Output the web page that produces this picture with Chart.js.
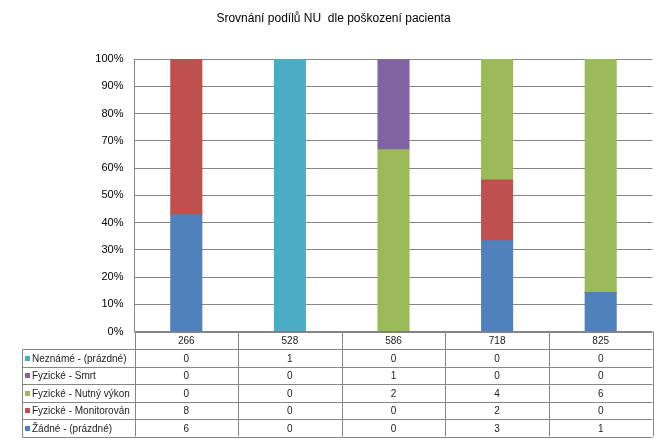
<!DOCTYPE html>
<html>
<head>
<meta charset="utf-8">
<script src="https://cdn.jsdelivr.net/npm/chart.js@4"></script>
<style>
  html, body { margin: 0; padding: 0; background: #fff; }
  #wrap { width: 667px; height: 442px; }
</style>
</head>
<body>
<div id="wrap"><canvas id="myChart" width="667" height="442"></canvas></div>
<script>
// Data
var kategorie = ["266", "528", "586", "718", "825"];
var zadne = [6, 0, 0, 3, 1];
var monitorovan = [8, 0, 0, 2, 0];
var nutnyVykon = [0, 0, 2, 4, 6];
var smrt = [0, 0, 1, 0, 0];
var nezname = [0, 1, 0, 0, 0];
var yTicks = ["0%", "10%", "20%", "30%", "40%", "50%", "60%", "70%", "80%", "90%", "100%"];

var serie = [
  { label: "Žádné - (prázdné)", data: zadne, color: "#4F81BD" },
  { label: "Fyzické - Monitorován", data: monitorovan, color: "#C0504D" },
  { label: "Fyzické - Nutný výkon", data: nutnyVykon, color: "#9BBB59" },
  { label: "Fyzické - Smrt", data: smrt, color: "#8064A2" },
  { label: "Neznámé - (prázdné)", data: nezname, color: "#4BACC6" }
];

// soucty pro 100% skladany graf
var soucty = kategorie.map(function(k, i) {
  var s = 0;
  serie.forEach(function(ser) { s += ser.data[i]; });
  return s;
});

var datasets = serie.map(function(ser) {
  return {
    label: ser.label,
    data: ser.data.map(function(v, i) { return soucty[i] ? v / soucty[i] * 100 : 0; }),
    backgroundColor: ser.color,
    borderWidth: 0,
    inflateAmount: 0.5,
    barPercentage: 0.3,
    categoryPercentage: 1
  };
});

var font = "'Liberation Sans', Arial, sans-serif";
var gridColor = "#868686";

// Tabulka dat pod grafem
var tabulka = {
  id: "tabulka",
  afterDraw: function(chart) {
    var ctx = chart.ctx;
    var area = chart.chartArea;
    var xs = chart.scales.x;
    var n = kategorie.length;
    var colW = (area.right - area.left) / n;
    var rowH = 17.5;
    var top = area.bottom;
    var tableLeft = 22.5;
    var bottom = top + rowH * (serie.length + 1);

    ctx.save();
    ctx.strokeStyle = gridColor;
    ctx.lineWidth = 1;

    // horizontalni cary
    ctx.beginPath();
    ctx.moveTo(area.left, Math.round(top) + 0.5);
    ctx.lineTo(area.right, Math.round(top) + 0.5);
    for (var r = 1; r <= serie.length + 1; r++) {
      var y = Math.round(top + r * rowH) + 0.5;
      ctx.moveTo(tableLeft, y);
      ctx.lineTo(area.right, y);
    }
    // vertikalni cary
    for (var c = 0; c <= n; c++) {
      var x = Math.round(area.left + c * colW) + 0.5;
      ctx.moveTo(x, top);
      ctx.lineTo(x, bottom);
    }
    ctx.moveTo(tableLeft, Math.round(top + rowH) + 0.5);
    ctx.lineTo(tableLeft, Math.round(bottom) + 0.5);
    ctx.stroke();

    ctx.font = "10px " + font;
    ctx.fillStyle = "#222";
    ctx.textBaseline = "middle";
    ctx.textAlign = "center";

    // popisky kategorii
    kategorie.forEach(function(k, i) {
      ctx.fillText(k, xs.getPixelForValue(i), top + rowH / 2 + 1);
    });

    // radky serii (obracene poradi)
    var rev = serie.slice().reverse();
    rev.forEach(function(ser, r) {
      var yc = top + (r + 1) * rowH + rowH / 2 + 1;
      ctx.fillStyle = ser.color;
      ctx.fillRect(25, Math.round(yc) - 3, 5, 5);
      ctx.fillStyle = "#222";
      ctx.textAlign = "left";
      ctx.fillText(ser.label, 32, yc);
      ctx.textAlign = "center";
      ser.data.forEach(function(v, i) {
        ctx.fillText(String(v), xs.getPixelForValue(i), yc);
      });
    });
    ctx.restore();
  }
};

var chart = new Chart(document.getElementById("myChart"), {
  type: "bar",
  data: { labels: kategorie, datasets: datasets },
  options: {
    responsive: false,
    animation: false,
    layout: { padding: { left: 0, right: 0, top: 0, bottom: 110.5 } },
    plugins: {
      legend: { display: false },
      tooltip: { enabled: false },
      title: {
        display: true,
        text: "Srovnání podílů NU  dle poškození pacienta",
        color: "#000",
        font: { family: font, size: 12, weight: "normal" },
        padding: { top: 11, bottom: 33.6 }
      }
    },
    scales: {
      x: {
        stacked: true,
        display: false
      },
      y: {
        stacked: true,
        min: 0,
        max: 100,
        afterFit: function(s) { s.width = 134.5; },
        afterBuildTicks: function(s) {
          s.ticks = yTicks.map(function(t, i) { return { value: i * 10 }; });
        },
        ticks: {
          callback: function(v, i) { return yTicks[i]; },
          color: "#000",
          font: { family: font, size: 11 },
          padding: 11
        },
        grid: { color: gridColor, drawTicks: false, lineWidth: 1 },
        border: { display: true, color: gridColor }
      },
      // prazdny okraj vpravo
      y2: {
        position: "right",
        min: 0,
        max: 100,
        afterFit: function(s) { s.width = 14.5; },
        ticks: { display: false },
        grid: { display: false, drawTicks: false },
        border: { display: false }
      }
    }
  },
  plugins: [tabulka]
});
</script>
</body>
</html>
